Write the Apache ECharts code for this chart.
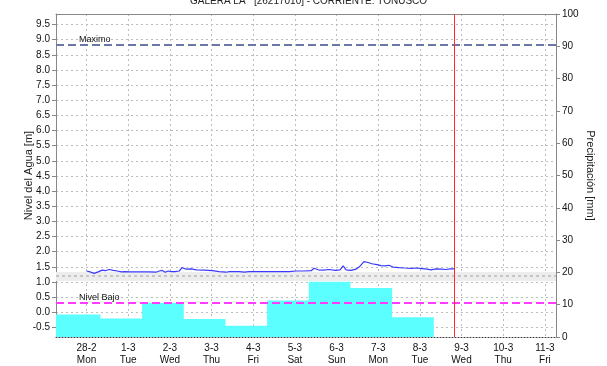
<!DOCTYPE html>
<html><head><meta charset="utf-8">
<script src="https://cdn.jsdelivr.net/npm/echarts@6/dist/echarts.min.js"></script>
<style>html,body{margin:0;padding:0;background:#fff}#c{width:607px;height:366px}</style>
</head><body><div id="c"></div>
<script>
const titleText = 'GALERA LA   [26217010] - CORRIENTE: TONUSCO';
const dayLabels = ['28-2','1-3','2-3','3-3','4-3','5-3','6-3','7-3','8-3','9-3','10-3','11-3'];
const weekdayLabels = ['Mon','Tue','Wed','Thu','Fri','Sat','Sun','Mon','Tue','Wed','Thu','Fri'];
const dayHours = [0,24,48,72,96,120,144,168,192,216,240,264];
const levelTicks = [-0.5,0,0.5,1,1.5,2,2.5,3,3.5,4,4.5,5,5.5,6,6.5,7,7.5,8,8.5,9,9.5];
// water level (m), hours since 28-2 00:00
const levelHours = [0,2,4.4,6.7,9,10.8,13,15.4,17.7,20,22.3,24.6,30.3,36,40,41.9,43.6,45.3,47,48.8,51,53.4,55,57.4,60.3,63.2,67.8,72.4,76.4,80.4,82.2,87.9,90.8,93.7,99.4,105.2,111,116.7,120.7,125.3,129.4,131,133.4,136.3,139.7,143.2,146,147.8,149.5,152.4,155.2,157.5,159.8,162.1,164.4,167.3,169.6,171.9,174.2,176.5,180,183.4,186.9,190.4,193.2,196.1,198.4,201.3,204.2,207.1,209.4,211.7];
const levelValues = [1.36,1.33,1.28,1.33,1.39,1.37,1.41,1.38,1.36,1.33,1.34,1.33,1.33,1.33,1.32,1.36,1.38,1.32,1.36,1.34,1.34,1.36,1.47,1.42,1.43,1.40,1.39,1.37,1.34,1.32,1.34,1.34,1.32,1.34,1.34,1.34,1.34,1.34,1.36,1.36,1.37,1.45,1.40,1.39,1.41,1.38,1.40,1.53,1.40,1.38,1.42,1.52,1.67,1.64,1.60,1.57,1.54,1.53,1.55,1.49,1.47,1.46,1.45,1.46,1.44,1.42,1.40,1.43,1.42,1.41,1.43,1.43];
// daily precipitation (mm), bar start hours
const precipStartHours = [-18,8,32,56,80,104,128,152,176,200];
const precipValues = [7.0,5.7,10.6,5.6,3.5,11.3,17.1,15.2,6.1];
const maximoLevel = 8.84;
const bajoLevel = 0.3;
const bandLow = 1.03, bandHigh = 1.33, bandMid = 1.2;
const nowHour = 212;
const xMin = -17.6, xMax = 270.4;

const precipData = precipValues.map((v,i)=>[precipStartHours[i], v]);
precipData.push([precipStartHours[precipValues.length], precipValues[precipValues.length-1]]);
const levelData = levelHours.map((h,i)=>[h, levelValues[i]]);

const chart = echarts.init(document.getElementById('c'), null, {renderer:'canvas'});
const gridLine = {show:true, lineStyle:{color:'#bdbdbd', type:[2,3], width:1}};
chart.setOption({
  animation:false,
  textStyle:{fontFamily:'Liberation Sans'},
  title:{text:titleText, left:185, top:-9, textStyle:{fontSize:10, fontWeight:'normal', color:'#222'}},
  grid:{left:56, top:14, width:500, height:324},
  xAxis:[{
    type:'value', min:xMin, max:xMax,
    axisLine:{show:true, onZero:false, lineStyle:{color:'#333', type:[1,2]}},
    axisTick:{show:false, customValues:dayHours},
    axisLabel:{customValues:dayHours, fontSize:10, color:'#111', lineHeight:12, margin:5,
      formatter:(v)=>{const i=Math.round(v/24);return dayLabels[i]+'\n'+weekdayLabels[i];}},
    splitLine:gridLine
  },{
    type:'value', position:'top', min:xMin, max:xMax,
    axisLine:{show:true, onZero:false, lineStyle:{color:'#888'}}, axisTick:{show:false}, axisLabel:{show:false}, splitLine:{show:false}
  }],
  yAxis:[{
    type:'value', min:-0.82, max:9.85, position:'left',
    name:'Nivel del Agua [m]', nameLocation:'middle', nameRotate:90, nameGap:22, nameMoveOverlap:false,
    nameTextStyle:{fontSize:11, color:'#222'},
    axisLine:{show:true, onZero:false, lineStyle:{color:'#888'}},
    axisTick:{show:true, length:4, customValues:levelTicks, lineStyle:{color:'#888'}},
    axisLabel:{customValues:levelTicks, fontSize:10, color:'#111', margin:6, formatter:(v)=>v.toFixed(1)},
    splitLine:gridLine
  },{
    type:'value', min:0, max:100, interval:10, position:'right',
    name:'Precipitación [mm]', nameLocation:'middle', nameRotate:-90, nameGap:29, nameMoveOverlap:false,
    nameTextStyle:{fontSize:11, color:'#222'},
    axisLine:{show:true, onZero:false, lineStyle:{color:'#888'}},
    axisTick:{show:true, length:4, lineStyle:{color:'#888'}},
    axisLabel:{fontSize:10, color:'#111', margin:6},
    splitLine:{show:false}
  }],
  series:[{
    type:'line', yAxisIndex:1, step:'end', symbol:'none', data:precipData,
    lineStyle:{width:0, color:'#5cffff'}, itemStyle:{color:'#5cffff'},
    areaStyle:{color:'#5cffff', opacity:1}, z:1
  },{
    type:'line', yAxisIndex:0, symbol:'none', data:levelData,
    lineStyle:{width:1.2, color:'#3a3aff'}, itemStyle:{color:'#3a3aff'}, z:5,
    markArea:{silent:true, itemStyle:{color:'#ededed'}, data:[[{yAxis:bandLow},{yAxis:bandHigh}]]},
    markLine:{silent:true, symbol:'none', animation:false, data:[
      {yAxis:bandMid, lineStyle:{color:'#c6c6c6', width:2, type:[3,3]}, label:{show:false}},
      {yAxis:maximoLevel, lineStyle:{color:'#6b77a8', width:2, type:[8,4]},
        label:{show:true, position:'insideStartTop', formatter:'Maximo', fontSize:9, color:'#111', padding:[0,0,0,22], distance:1}},
      {yAxis:bajoLevel, lineStyle:{color:'#ff3cff', width:2, type:[8,4]},
        label:{show:true, position:'insideStartTop', formatter:'Nivel Bajo', fontSize:9, color:'#111', padding:[0,0,0,22], distance:1}},
      {xAxis:nowHour, lineStyle:{color:'#ff2a2a', width:1, type:'solid'}, label:{show:false}}
    ]}
  }]
});
</script></body></html>
